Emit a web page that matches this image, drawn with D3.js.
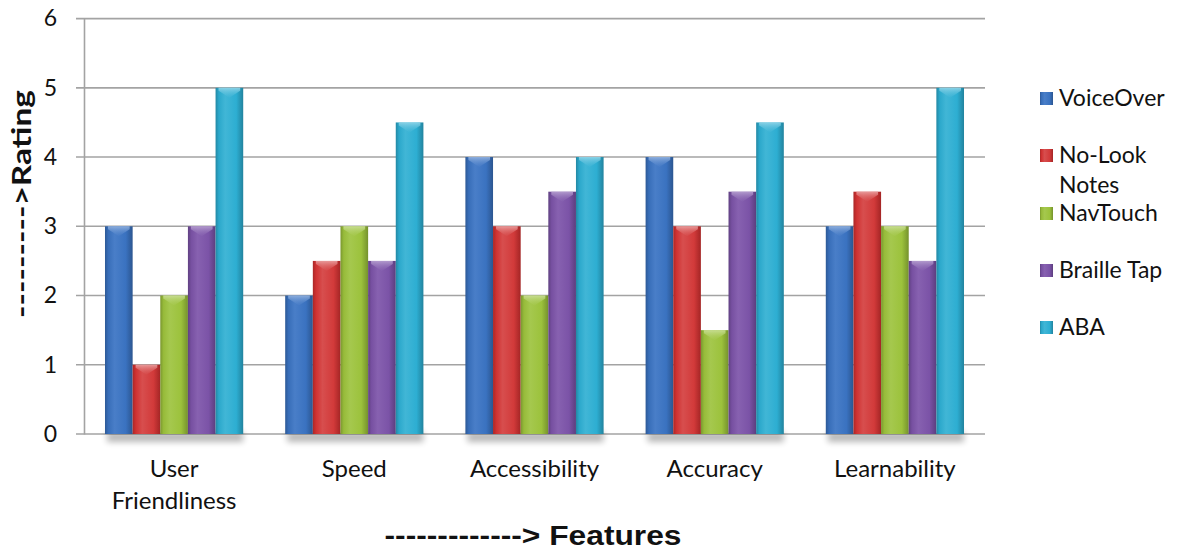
<!DOCTYPE html>
<html>
<head>
<meta charset="utf-8">
<script src="https://cdn.jsdelivr.net/npm/d3@7/dist/d3.min.js"></script>
<style>
  html, body { margin: 0; padding: 0; background: #fff; }
  svg { display: block; }
  text { font-family: Lato, "Open Sans", sans-serif; fill: #111; }
</style>
</head>
<body>
<svg id="chart" width="1179" height="550"></svg>
<script>
// Feature ratings per app
const categories = [["User", "Friendliness"], ["Speed"], ["Accessibility"], ["Accuracy"], ["Learnability"]];
const seriesNames = ["VoiceOver", "No-Look Notes", "NavTouch", "Braille Tap", "ABA"];
const voiceOver   = [3, 2, 4, 4, 3];
const noLookNotes = [1, 2.5, 3, 3, 3.5];
const navTouch    = [2, 3, 2, 1.5, 3];
const brailleTap  = [3, 2.5, 3.5, 3.5, 2.5];
const aba         = [5, 4.5, 4, 4.5, 5];
const yTicks = [0, 1, 2, 3, 4, 5, 6];
const colors = ["#3a72c0", "#d23a3a", "#9cc23c", "#7b53a7", "#2daed2"];

const series = [voiceOver, noLookNotes, navTouch, brailleTap, aba];

const svg = d3.select("#chart");
const plot = { left: 84, right: 985, top: 18.6, bottom: 434 };

const x0 = d3.scaleBand()
  .domain(d3.range(categories.length))
  .range([plot.left, plot.right])
  .paddingInner(0.233)
  .paddingOuter(0.1165);
const x1 = d3.scaleBand()
  .domain(d3.range(seriesNames.length))
  .range([0, x0.bandwidth()]);
const y = d3.scaleLinear().domain([0, 6]).range([plot.bottom, plot.top]);

// gradients giving the bars a rounded, glossy look
const defs = svg.append("defs");
colors.forEach((c, i) => {
  const base = d3.hsl(c);
  const g = defs.append("linearGradient").attr("id", "bar" + i)
    .attr("x1", "0").attr("x2", "1").attr("y1", "0").attr("y2", "0");
  g.append("stop").attr("offset", "0").attr("stop-color", base.darker(0.7));
  g.append("stop").attr("offset", "0.12").attr("stop-color", base.darker(0.1));
  g.append("stop").attr("offset", "0.35").attr("stop-color", base.brighter(0.25));
  g.append("stop").attr("offset", "0.75").attr("stop-color", c);
  g.append("stop").attr("offset", "1").attr("stop-color", base.darker(0.8));
  const cap = defs.append("linearGradient").attr("id", "cap" + i)
    .attr("x1", "0").attr("x2", "0").attr("y1", "0").attr("y2", "1");
  cap.append("stop").attr("offset", "0").attr("stop-color", base.brighter(1.1));
  cap.append("stop").attr("offset", "1").attr("stop-color", base.brighter(0.4)).attr("stop-opacity", 0.2);
});
const blur = defs.append("filter").attr("id", "shadow")
  .attr("x", "-20%").attr("y", "-50%").attr("width", "140%").attr("height", "300%");
blur.append("feGaussianBlur").attr("stdDeviation", 3);

// gridlines
svg.append("g")
  .selectAll("line").data(yTicks).join("line")
  .attr("x1", plot.left - 8).attr("x2", plot.right)
  .attr("y1", d => y(d)).attr("y2", d => y(d))
  .attr("stroke", "#a3a3a3").attr("stroke-width", 1.6);

// y axis
const yAxis = svg.append("g")
  .attr("transform", `translate(${plot.left},0)`)
  .call(d3.axisLeft(y).tickValues(yTicks).tickSize(0).tickPadding(27).tickFormat(d3.format("d")));
yAxis.select(".domain").attr("stroke", "#a3a3a3").attr("stroke-width", 1.6);
yAxis.selectAll("text").style("font-size", "23px").style("font-family", "Lato, sans-serif").attr("fill", "#111");

// group shadows under bars
const groups = svg.append("g").selectAll("g").data(categories).join("g")
  .attr("transform", (d, i) => `translate(${x0(i)},0)`);

groups.append("rect")
  .attr("x", 2).attr("width", x0.bandwidth() - 2)
  .attr("y", y(0) - 2).attr("height", 10)
  .attr("fill", "#000").attr("opacity", 0.28)
  .attr("filter", "url(#shadow)");

groups.each(function (cat, ci) {
  const g = d3.select(this);
  series.forEach((vals, si) => {
    const v = vals[ci];
    const bx = x1(si), bw = x1.bandwidth();
    const top = y(v);
    g.append("rect")
      .attr("x", bx).attr("width", bw)
      .attr("y", top).attr("height", y(0) - top)
      .attr("fill", `url(#bar${si})`);
    // lighter chevron cap at the top of each bar
    const capH = 10;
    g.append("path")
      .attr("d", `M${bx + 3},${top} L${bx + bw - 3},${top} L${bx + bw - 3},${top + capH * 0.3} L${bx + bw / 2},${top + capH} L${bx + 3},${top + capH * 0.3} Z`)
      .attr("fill", `url(#cap${si})`).attr("opacity", 0.9);
  });
});

// category labels
const catLabels = svg.append("g").selectAll("text").data(categories).join("text")
  .attr("x", (d, i) => x0(i) + x0.bandwidth() / 2)
  .attr("y", 477)
  .attr("text-anchor", "middle")
  .style("font-size", "24px");
catLabels.selectAll("tspan").data(d => d).join("tspan")
  .attr("x", function () { return d3.select(this.parentNode).attr("x"); })
  .attr("dy", (d, i) => i === 0 ? 0 : 32)
  .text(d => d);

// axis titles
svg.append("text")
  .attr("x", 533).attr("y", 545)
  .attr("text-anchor", "middle")
  .style("font-family", "'Liberation Sans', Arial, sans-serif")
  .style("font-weight", "bold").style("font-size", "27px")
  .attr("textLength", 297).attr("lengthAdjust", "spacingAndGlyphs")
  .text("-------------> Features");

svg.append("text")
  .attr("transform", "translate(31,204) rotate(-90)")
  .attr("text-anchor", "middle")
  .style("font-weight", "bold").style("font-size", "27px")
  .attr("textLength", 228).attr("lengthAdjust", "spacingAndGlyphs")
  .text("--------->Rating");

// legend
const legendY = [98, 155, 213, 270, 327];
const legend = svg.append("g").selectAll("g").data(seriesNames).join("g")
  .attr("transform", (d, i) => `translate(1040,${legendY[i]})`);
legend.append("rect")
  .attr("x", 0).attr("y", -6).attr("width", 13).attr("height", 13)
  .attr("fill", (d, i) => `url(#bar${i})`);
const legText = legend.append("text")
  .attr("x", 19).attr("y", 8)
  .style("font-size", "23px");
legText.selectAll("tspan").data(d => d === "No-Look Notes" ? ["No-Look", "Notes"] : [d]).join("tspan")
  .attr("x", 19)
  .attr("dy", (d, i) => i === 0 ? 0 : 30)
  .text(d => d);
</script>
</body>
</html>
